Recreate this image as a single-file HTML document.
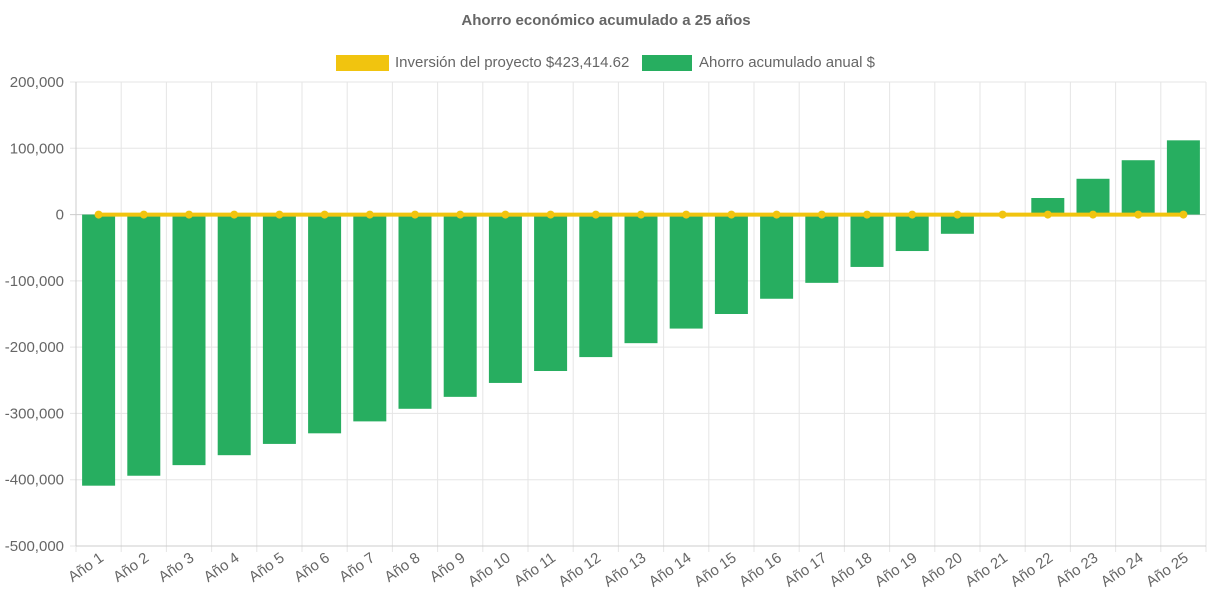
<!DOCTYPE html>
<html><head><meta charset="utf-8"><style>
html,body{margin:0;padding:0;background:#fff;}
svg{display:block;font-family:"Liberation Sans",Arial,sans-serif;}
</style></head><body>
<svg id="chart" width="1213" height="606" viewBox="0 0 1213 606" xmlns="http://www.w3.org/2000/svg">
<text x="606" y="25" text-anchor="middle" font-size="15" font-weight="bold" fill="#666">Ahorro económico acumulado a 25 años</text>
<g>
<rect x="336" y="55" width="53" height="16" fill="#f1c40f"/>
<text x="395" y="67" font-size="15" fill="#666">Inversión del proyecto $423,414.62</text>
<rect x="642" y="55" width="50" height="16" fill="#27ae60"/>
<text x="699" y="67" font-size="15" fill="#666">Ahorro acumulado anual $</text>
</g>
<g id="grid"></g><g id="bars"></g><g id="line"></g><g id="axes"></g>
</svg>
<script>
const categories = ["Año 1","Año 2","Año 3","Año 4","Año 5","Año 6","Año 7","Año 8","Año 9","Año 10","Año 11","Año 12","Año 13","Año 14","Año 15","Año 16","Año 17","Año 18","Año 19","Año 20","Año 21","Año 22","Año 23","Año 24","Año 25"];
const savings = [-409000,-394000,-378000,-363000,-346000,-330000,-312000,-293000,-275000,-254000,-236000,-215000,-194000,-172000,-150000,-127000,-103000,-79000,-55000,-29000,-1000,25000,54000,82000,112000];
const investmentLine = [0,0,0,0,0,0,0,0,0,0,0,0,0,0,0,0,0,0,0,0,0,0,0,0,0];
const yTicks = [200000,100000,0,-100000,-200000,-300000,-400000,-500000];

const NS="http://www.w3.org/2000/svg";
const L=76,R=1206,T=82,B=546,yMax=200000,yMin=-500000;
const y=v=>T+(yMax-v)/(yMax-yMin)*(B-T);
const band=(R-L)/categories.length;
const xc=i=>L+band*(i+0.5);
function mk(tag,attrs,parent){const e=document.createElementNS(NS,tag);for(const k in attrs)e.setAttribute(k,attrs[k]);document.getElementById(parent).appendChild(e);return e;}
const fmt=v=>v.toLocaleString("en-US");

yTicks.forEach(t=>{
  const g=mk("line",{x1:L-6,x2:R,y1:y(t),y2:y(t),stroke:t===0?"#ccc":"#e5e5e5","stroke-width":1},"grid");
  
  
  const tx=mk("text",{x:L-12,y:y(t)+5,"text-anchor":"end","font-size":15,fill:"#666"},"axes");
  tx.textContent=fmt(t);
  
  
});
for(let i=0;i<=categories.length;i++){
  const x=L+band*i;
  const g=mk("line",{x1:x,x2:x,y1:T,y2:B+6,stroke:"#e5e5e5","stroke-width":1},"grid");
  
  
}
const ax=mk("line",{x1:L,x2:L,y1:T,y2:B,stroke:"#ccc"},"axes");


const ax2=mk("line",{x1:L,x2:R,y1:B,y2:B,stroke:"#ccc"},"axes");



const bw=33;
savings.forEach((v,i)=>{
  const y0=y(0),y1=y(v);
  const r=mk("rect",{x:xc(i)-bw/2,y:Math.min(y0,y1),width:bw,height:Math.abs(y1-y0),fill:"#27ae60"},"bars");
  
  
});
categories.forEach((c,i)=>{
  const x=xc(i)+6,yy=B+14;
  const t=mk("text",{x:x,y:yy,"text-anchor":"end","font-size":15,fill:"#666",transform:`rotate(-35 ${x} ${yy})`},"axes");
  t.textContent=c;
  
  
});
const pts=investmentLine.map((v,i)=>xc(i)+","+y(v)).join(" ");
const pl=mk("polyline",{points:pts,fill:"none",stroke:"#f1c40f","stroke-width":4},"line");


investmentLine.forEach((v,i)=>{
  const c=mk("circle",{cx:xc(i),cy:y(v),r:4,fill:"#f1c40f"},"line");
  
  
});
</script>
</body></html>
